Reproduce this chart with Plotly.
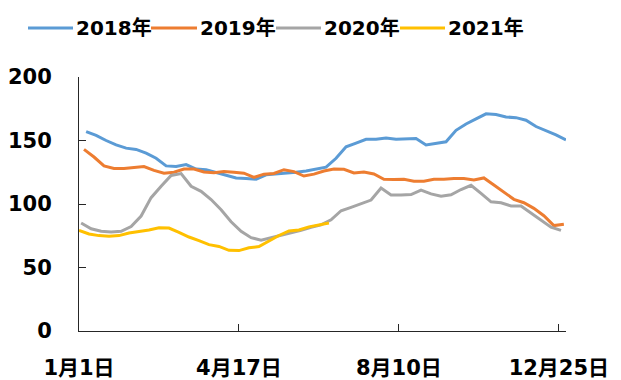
import plotly.graph_objects as go

# ---------------- data ----------------
series_names = ["2018年", "2019年", "2020年", "2021年"]
series_colors = ["#5B9BD5", "#ED7D31", "#A5A5A5", "#FFC000"]
# first observation day (days after 1月1日) of each year's weekly series
start_days = [5, 3.5, 1.5, 0]

v2018 = [157, 154, 150, 146.5, 144, 143, 140, 136, 130, 129.5, 131, 127.5, 127, 125, 123,
         120.5, 120, 119.5, 123, 123.5, 124, 125, 126, 127.5, 129, 136, 145, 148, 151, 151,
         152, 151, 151.5, 151.5, 146.5, 148, 149, 158, 163, 167, 171, 170.5, 168.5, 168, 166,
         161, 158, 154.5, 150.5]
v2019 = [143, 137, 130, 128, 128, 128.5, 129.5, 126.5, 124.2, 125, 127.5, 127.5, 125.2, 124.7,
         125.5, 125, 124.3, 121, 123.5, 124, 127, 125.5, 122, 123.5, 126, 127.5, 127.3, 124.5,
         125.2, 123.6, 119.5, 119.3, 119.4, 118, 118, 119.4, 119.4, 120, 120, 118.9, 120.5, 115,
         109, 103.7, 101, 96.6, 90.8, 83, 84]
v2020 = [85, 80.5, 78.5, 78, 78.5, 82.3, 90.5, 105, 114, 122.5, 124, 114, 110, 103.5, 95.5, 86,
         78.5, 73.5, 71.5, 73.5, 75.5, 77, 79.3, 81.7, 83.5, 87.6, 94.7, 97.4, 100.2, 103.1, 112.5,
         107.1, 107.1, 107.4, 111, 108, 106.2, 107.3, 111.4, 114.7, 108.3, 101.7, 101, 98.5, 98.5,
         93, 87, 81.8, 79.2]
v2021 = [79.3, 76.4, 75.1, 74.6, 75.1, 77.2, 78.4, 79.5, 81.3, 81.1, 77.7, 74, 71.1, 68, 66.6,
         63.5, 63.3, 65.5, 66.5, 71, 75.2, 78.8, 79.5, 82, 83.5, 85]

tick_labels = ["1月1日", "4月17日", "8月10日", "12月25日"]
tick_every_weeks = 16
y_ticks = [0, 50, 100, 150, 200]

all_values = [v2018, v2019, v2020, v2021]

# ---------------- layout geometry ----------------
W, H = 621, 380
L, R, T, B = 79, 55, 77, 49
PW, PH = W - L - R, H - T - B

FONT = "DejaVu Sans, Noto Sans CJK SC, sans-serif"
AXIS_COLOR = "#262626"

def px_to_paper_x(px):
    return (px - L) / PW

def px_to_paper_y(py):
    return (H - B - py) / PH

fig = go.Figure()
for name, color, start, vals in zip(series_names, series_colors, start_days, all_values):
    xs = [start + 7 * i for i in range(len(vals))]
    fig.add_trace(go.Scatter(x=xs, y=vals, mode="lines", name=name,
                             line=dict(color=color, width=3), showlegend=False))

x_end = max(start_days[k] + 7 * (len(all_values[k]) - 1) for k in range(4))
tickvals = [7 * tick_every_weeks * j for j in range(len(tick_labels))]

fig.update_xaxes(range=[0, x_end], tickvals=tickvals, ticktext=tick_labels,
                 showline=True, linecolor=AXIS_COLOR, linewidth=1,
                 ticks="inside", ticklen=7, tickcolor=AXIS_COLOR, tickwidth=1,
                 showgrid=False, zeroline=False, ticklabelstandoff=18, automargin=False,
                 tickfont=dict(family=FONT, size=21, color="black", weight="bold"))
fig.update_yaxes(range=[0, 200], tickvals=y_ticks,
                 showline=True, linecolor=AXIS_COLOR, linewidth=1,
                 ticks="inside", ticklen=7, tickcolor=AXIS_COLOR, tickwidth=1,
                 showgrid=False, zeroline=False, ticklabelstandoff=22, automargin=False,
                 tickfont=dict(family=FONT, size=21, color="black", weight="bold"))

# manual legend (longer line symbols like the original)
legend_line_px = [(28, 73), (151, 197), (276, 321), (400, 445)]
legend_y_px = 28
for (x0, x1), name, color in zip(legend_line_px, series_names, series_colors):
    fig.add_shape(type="line", xref="paper", yref="paper",
                  x0=px_to_paper_x(x0), x1=px_to_paper_x(x1),
                  y0=px_to_paper_y(legend_y_px), y1=px_to_paper_y(legend_y_px),
                  line=dict(color=color, width=3))
    fig.add_annotation(xref="paper", yref="paper", x=px_to_paper_x(x1 + 1),
                       y=px_to_paper_y(legend_y_px), text=name, showarrow=False,
                       xanchor="left", yanchor="middle",
                       font=dict(family=FONT, size=20, color="black", weight="bold"))

fig.update_layout(width=W, height=H, margin=dict(l=L, r=R, t=T, b=B),
                  paper_bgcolor="white", plot_bgcolor="white")

fig.write_html("out.html")
